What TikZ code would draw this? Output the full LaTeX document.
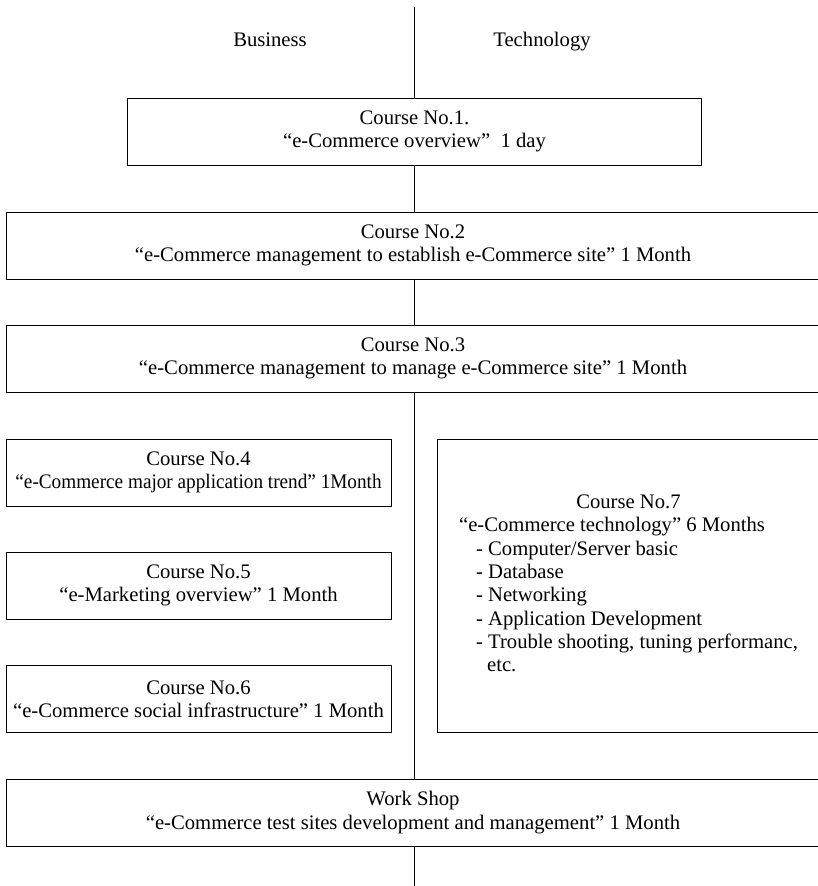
\documentclass[tikz,border=0pt]{standalone}
\usepackage{fontspec}
\setmainfont{Liberation Serif}
\usepackage{tikz}
\usetikzlibrary{calc}
\def\pxu{0.75pt}

\begin{document}
\begin{tikzpicture}[x=0.75pt, y=-0.75pt,
    every node/.style={font=\fontsize{15.5}{17.5}\selectfont},
    box/.style={draw, line width=0.75pt, align=center, inner sep=0pt},
    wide/.style={box, minimum width=814*\pxu, minimum height=67*\pxu},
    half/.style={box, minimum width=385*\pxu, minimum height=67*\pxu},
    head/.style={anchor=base},
    link/.style={line width=0.75pt}]
  \useasboundingbox (0,0) rectangle (818,886);
  \coordinate (top) at (414.5,7);
  \coordinate (bot) at (414.5,886);
  \node[head] (biz)  at (270,46) {Business};
  \node[head] (tech) at (542,46) {Technology};
  \node[box, minimum width=574*\pxu, minimum height=67*\pxu] (c1) at (414.5,131.5)
    {Course No.1.\\ “e-Commerce overview”\ \ 1 day};
  \node[wide] (c2) at (413,245.5)
    {Course No.2\\ “e-Commerce management to establish e-Commerce site” 1 Month};
  \node[wide] (c3) at (413,358.5)
    {Course No.3\\ “e-Commerce management to manage e-Commerce site” 1 Month};
  \node[half] (c4) at (198.5,472.5)
    {Course No.4\\ \scalebox{0.93}[1]{“e-Commerce major application trend” 1Month}};
  \node[half] (c5) at (198.5,585.5)
    {Course No.5\\ “e-Marketing overview” 1 Month};
  \node[half] (c6) at (198.5,699)
    {Course No.6\\ “e-Commerce social infrastructure” 1 Month};
  \node[box, minimum width=383*\pxu, minimum height=293*\pxu] (c7) at (628.5,585.5)
    {\begin{tabular}{@{}l@{}}
      \multicolumn{1}{c}{Course No.7}\\
      “e-Commerce technology” 6 Months\\
      \hspace*{12.75pt}- Computer/Server basic\\
      \hspace*{12.75pt}- Database\\
      \hspace*{12.75pt}- Networking\\
      \hspace*{12.75pt}- Application Development\\
      \hspace*{12.75pt}- Trouble shooting, tuning performanc,\\
      \hspace*{21pt}etc.
    \end{tabular}};
  \node[wide] (ws) at (413,812.5)
    {Work Shop\\ “e-Commerce test sites development and management” 1 Month};
  \draw[link] (top) -- (top |- c1.north);
  \draw[link] (top |- c1.south) -- (top |- c2.north);
  \draw[link] (top |- c2.south) -- (top |- c3.north);
  \draw[link] (top |- c3.south) -- (top |- ws.north);
  \draw[link] (top |- ws.south) -- (bot);
\end{tikzpicture}
\end{document}
